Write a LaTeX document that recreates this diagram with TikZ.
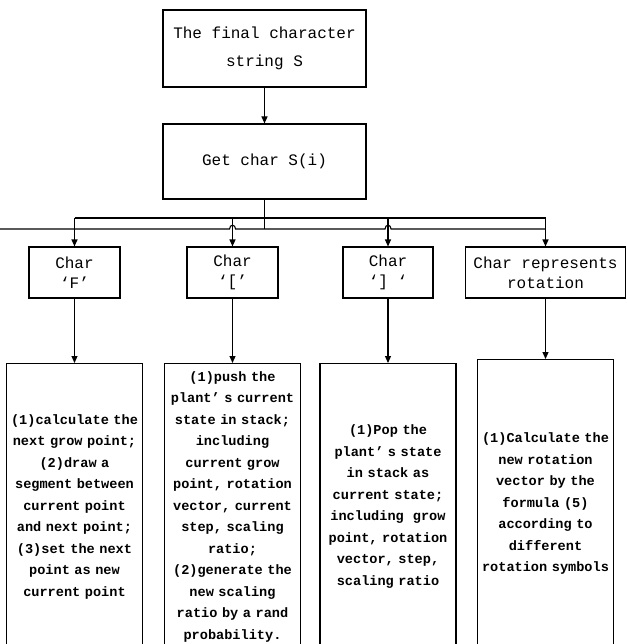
\documentclass[tikz,border=0pt]{standalone}
\usepackage{fontspec}
\setmainfont{Liberation Mono}
\usepackage{tikz}
\usetikzlibrary{arrows.meta,calc,positioning}

\begin{document}
\begin{tikzpicture}[>={Triangle[width=6pt,length=7pt]},x=1pt,y=-1pt,line width=1.1pt,
  box/.style={draw,inner sep=1pt,align=center,font=\fontsize{16}{20}\selectfont},
  bigbox/.style={draw,inner sep=1pt,anchor=north,align=center,minimum width=136pt,text width=134pt,font=\fontsize{13.6}{21.5}\selectfont\bfseries}]
\useasboundingbox (0,0) rectangle (626,644);
\clip (0,0) rectangle (626,644);
% top of the chart
\node[box,minimum width=203pt,minimum height=77pt,font=\fontsize{16}{28}\selectfont] (fin) at (264.5,48.5) {The final character\\string S};
\node[box,minimum width=203pt,minimum height=75pt] (get) at (264.5,161.5) {Get char S(i)};
% the four kinds of characters
\node[box,minimum width=91pt,minimum height=51pt] (cf) at (74.5,272.5) {Char\\‘F’};
\node[box,minimum width=91pt,minimum height=51pt] (cpush) at (232.5,272.5) {Char\\‘[’};
\node[box,minimum width=90pt,minimum height=51pt] (cpop) at (388,272.5) {Char\\‘] ‘};
\node[box,minimum width=160pt,minimum height=51pt] (crot) at (545.5,272.5) {Char represents\\rotation};
% what is done for each of them
\node[bigbox,minimum height=286pt] (bf) at (74.5,363) {(1)calculate the\\next grow point;\\(2)draw a\\segment between\\current point\\and next point;\\(3)set the next\\point as new\\current point};
\node[bigbox,minimum height=286pt] (bpush) at (232.5,363) {(1)push the\\plant’ s current\\state in stack;\\including\\current grow\\point, rotation\\vector, current\\step, scaling\\ratio;\\(2)generate the\\new scaling\\ratio by a rand\\probability.};
\node[bigbox,minimum height=286pt] (bpop) at (388,363) {(1)Pop the\\plant’ s state\\in stack as\\current state;\\including~ grow\\point, rotation\\vector, step,\\scaling ratio};
\node[bigbox,minimum height=288pt] (brot) at (545.5,359) {(1)Calculate the\\new rotation\\vector by the\\formula (5)\\according to\\different\\rotation symbols};
% the two bus lines
\coordinate (busl) at (0,229);
\coordinate (busu) at (74.5,218);
\draw[->] (fin) -- (get);
\draw (get) -- (get.south |- busl);
\draw (busl) -- ($(cpush.north |- busl)+(-3,0)$) .. controls ($(cpush.north |- busl)+(-3,-5)$) and ($(cpush.north |- busl)+(3,-5)$) .. ($(cpush.north |- busl)+(3,0)$)
  -- ($(cpop.north |- busl)+(-3,0)$) .. controls ($(cpop.north |- busl)+(-3,-5)$) and ($(cpop.north |- busl)+(3,-5)$) .. ($(cpop.north |- busl)+(3,0)$)
  -- (crot.north |- busl);
\draw (busu) -- (crot.north |- busu);
\draw[->] (busu) -- (cf);
\draw[->] (cpush.north |- busu) -- (cpush);
\draw[->] (cpop.north |- busu) -- (cpop);
\draw[->] (crot.north |- busu) -- (crot);
% down to the actions
\draw[->] (cf) -- (bf);
\draw[->] (cpush) -- (bpush);
\draw[->] (cpop) -- (bpop);
\draw[->] (crot) -- (brot);
\end{tikzpicture}
\end{document}
